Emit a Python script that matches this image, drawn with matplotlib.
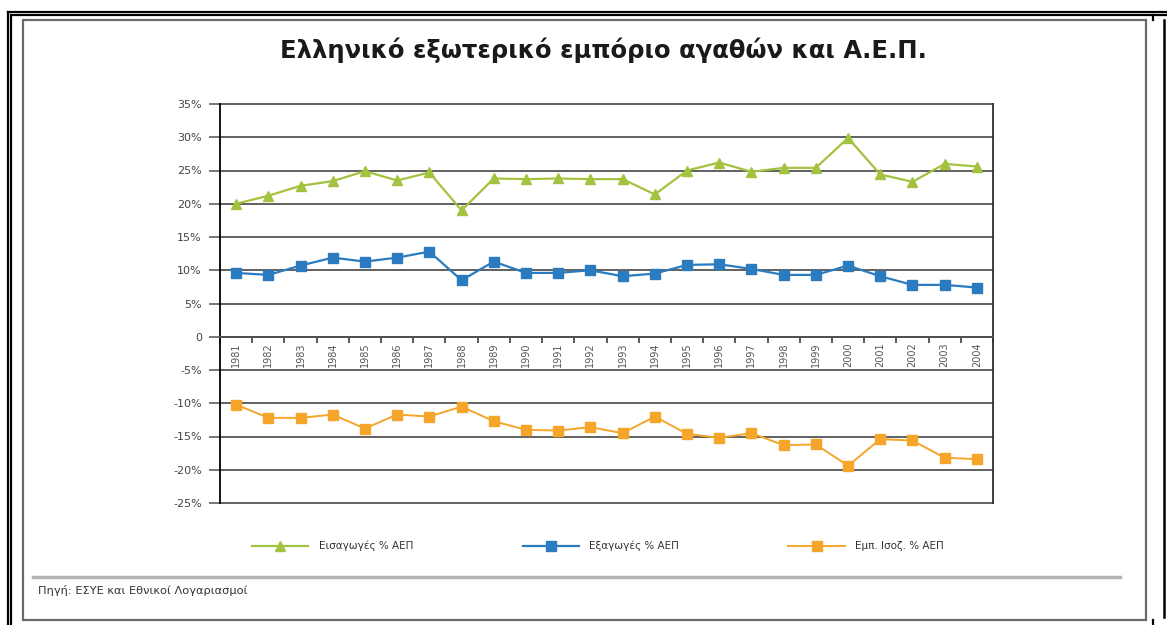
import numpy as np
import matplotlib
matplotlib.use("Agg")
import matplotlib.pyplot as plt
from matplotlib.lines import Line2D
from matplotlib.patches import Rectangle
from matplotlib.ticker import FixedLocator

# data (% of GDP)
years = [str(y) for y in range(1981, 2005)]
imports_gdp = [20.0, 21.2, 22.7, 23.4, 24.9, 23.5, 24.7, 19.0, 23.8, 23.7, 23.8, 23.7,
               23.7, 21.4, 25.0, 26.2, 24.8, 25.4, 25.4, 29.9, 24.4, 23.3, 26.0, 25.6]
exports_gdp = [9.6, 9.3, 10.7, 11.9, 11.3, 11.9, 12.8, 8.5, 11.3, 9.6, 9.6, 10.0,
               9.1, 9.5, 10.8, 10.9, 10.2, 9.3, 9.3, 10.7, 9.1, 7.8, 7.8, 7.4]
balance_gdp = [-10.2, -12.2, -12.2, -11.7, -13.8, -11.7, -12.0, -10.5, -12.7, -14.0, -14.1, -13.6,
               -14.5, -12.0, -14.6, -15.2, -14.5, -16.3, -16.2, -19.4, -15.4, -15.6, -18.2, -18.4]
series_names = ["Εισαγωγές % ΑΕΠ", "Εξαγωγές % ΑΕΠ", "Εμπ. Ισοζ. % ΑΕΠ"]
yticks = [35, 30, 25, 20, 15, 10, 5, 0, -5, -10, -15, -20, -25]
ytick_labels = ["35%", "30%", "25%", "20%", "15%", "10%", "5%", "0", "-5%", "-10%", "-15%", "-20%", "-25%"]
title = "Ελληνικό εξωτερικό εμπόριο αγαθών και Α.Ε.Π."
source = "Πηγή: ΕΣΥΕ και Εθνικοί Λογαριασμοί"

W, H = 1167, 625
fig = plt.figure(figsize=(W / 100, H / 100), dpi=100)
fig.patch.set_facecolor("white")


def fx(px):
    return px / W


def fy(py):
    return 1 - py / H


# page frame (double black border + inner gray box)
for x0, y0, x1, y1, lw in [
    (8, 12, W, 12, 1.6), (11, 15, W, 15, 1.6),
    (8, 12, 8, H, 1.6), (11, 15, 11, H, 1.6),
    (1164, 20, 1164, 617, 1.8),
    (1153, 15, 1153, 20, 1.6), (1153, 620, 1153, H, 1.6),
]:
    fig.add_artist(Line2D([fx(x0), fx(x1)], [fy(y0), fy(y1)], color="black", lw=lw))
fig.add_artist(Rectangle((fx(23), fy(620)), fx(1146) - fx(23), fy(20) - fy(620),
                         fill=False, edgecolor="#6a6a6a", lw=1.6))

# plot area
ax = fig.add_axes([fx(220), fy(503), fx(993) - fx(220), fy(104) - fy(503)])
x = np.arange(len(years))
ax.set_xlim(-0.5, len(years) - 0.5)
ax.set_ylim(-25, 35)

for v in yticks:
    ax.axhline(v, color="#606060", lw=1.4, zorder=1, clip_on=False)

green = "#a3c23f"
blue = "#2a7bbf"
orange = "#f5a529"
ax.plot(x, imports_gdp, color=green, lw=1.6, marker="^", ms=7.5,
        markerfacecolor=green, markeredgecolor=green, zorder=3, label=series_names[0])
ax.plot(x, exports_gdp, color=blue, lw=1.6, marker="s", ms=6.5,
        markerfacecolor=blue, markeredgecolor=blue, zorder=3, label=series_names[1])
ax.plot(x, balance_gdp, color=orange, lw=1.4, marker="s", ms=6.5,
        markerfacecolor=orange, markeredgecolor=orange, zorder=3, label=series_names[2])

for s in ["top", "bottom"]:
    ax.spines[s].set_visible(False)
ax.spines["left"].set_color("black")
ax.spines["left"].set_linewidth(1.3)
ax.spines["right"].set_color("#303030")
ax.spines["right"].set_linewidth(1.3)

ax.set_yticks(yticks)
ax.set_yticklabels(ytick_labels)
ax.tick_params(axis="y", length=8, width=1.2, color="#606060", pad=5,
               labelsize=8, labelcolor="#444444")

# category axis sits on the zero line
ax.spines["bottom"].set_visible(True)
ax.spines["bottom"].set_position(("data", 0))
ax.spines["bottom"].set_color("#505050")
ax.spines["bottom"].set_linewidth(1.4)
ax.set_xticks(x)
ax.set_xticklabels(years, rotation=90, va="top", ha="center")
ax.xaxis.set_minor_locator(FixedLocator(np.arange(-0.5, len(years), 1.0)))
ax.tick_params(axis="x", which="major", length=0, pad=4, labelsize=7, labelcolor="#555555")
ax.tick_params(axis="x", which="minor", length=4, width=1.2, color="#404040", direction="out")

fig.text(fx(603), fy(50), title, ha="center", va="center", fontsize=17.5,
         fontweight="bold", color="#1a1a1a")

handles, labels = ax.get_legend_handles_labels()
leg = fig.legend(handles, labels, loc="center", bbox_to_anchor=(fx(598), fy(546)),
                 ncol=3, frameon=False, fontsize=7.5, handlelength=5.4,
                 handletextpad=1.0, columnspacing=10.5, labelcolor="#333333")

fig.add_artist(Line2D([fx(33), fx(1120)], [fy(577), fy(577)], color="#b4b4b4", lw=2.5))
fig.text(fx(38), fy(590), source, ha="left", va="center", fontsize=8.2, color="#333333")

fig.savefig("out.png", dpi=100, facecolor="white")
